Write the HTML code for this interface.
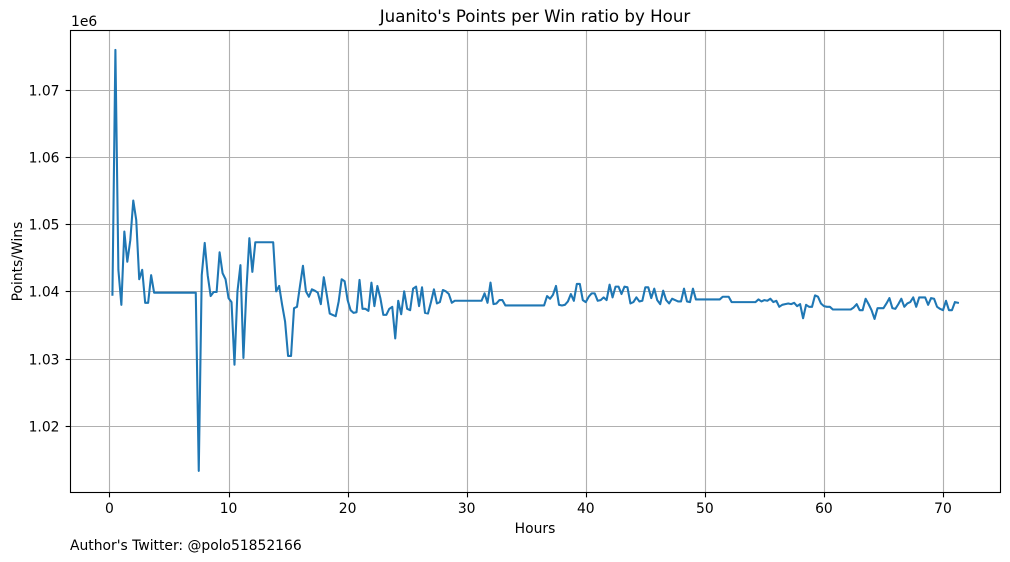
<!DOCTYPE html>
<html lang="en">
<head>
<meta charset="utf-8">
<title>Juanito's Points per Win ratio by Hour</title>
<style>
html,body{margin:0;padding:0;background:#fff;width:1010px;height:562px;overflow:hidden}
svg{display:block}
text{font-family:"DejaVu Sans",sans-serif;font-size:13.89px;fill:#000}
</style>
</head>
<body>
<svg id="chart" xmlns="http://www.w3.org/2000/svg" width="1010" height="562" viewBox="0 0 1010 562">
  <rect x="0" y="0" width="1010" height="562" fill="#fff"/>
  <g id="grid"></g>
  <path id="series" fill="none" stroke="#1f77b4" stroke-width="2.08" stroke-linejoin="round" stroke-linecap="square"></path>
  <rect x="70.5" y="30.5" width="930" height="462" fill="none" stroke="#000" stroke-width="1.11"/>
  <g id="ticks"></g>
  <text x="535" y="22" text-anchor="middle" style="font-size:16.67px">Juanito's Points per Win ratio by Hour</text>
  <text x="535" y="533" text-anchor="middle">Hours</text>
  <text x="0" y="0" text-anchor="middle" transform="translate(22,261.5) rotate(-90)">Points/Wins</text>
  <text x="71" y="26">1e6</text>
  <text x="70" y="550">Author's Twitter: @polo51852166</text>
</svg>
<script>
const xTicks = [0, 10, 20, 30, 40, 50, 60, 70];
const yTicks = [1.02, 1.03, 1.04, 1.05, 1.06, 1.07];
const yTickLabels = ["1.02", "1.03", "1.04", "1.05", "1.06", "1.07"];
const hours = [
  0.25,0.5,0.75,1,1.25,1.5,1.75,2,2.25,2.5,
  2.75,3,3.25,3.5,3.75,7.25,7.5,7.75,8,8.25,
  8.5,8.75,9,9.25,9.5,9.75,10,10.25,10.5,10.75,
  11,11.25,11.5,11.75,12,12.25,13.75,14,14.25,14.5,
  14.75,15,15.25,15.5,15.75,16,16.25,16.5,16.75,17,
  17.25,17.5,17.75,18,18.25,18.5,18.75,19,19.25,19.5,
  19.75,20,20.25,20.5,20.75,21,21.25,21.5,21.75,22,
  22.25,22.5,22.75,23,23.25,23.5,23.75,24,24.25,24.5,
  24.75,25,25.25,25.5,25.75,26,26.25,26.5,26.75,27,
  27.25,27.5,27.75,28,28.25,28.5,28.75,29,31.25,31.5,
  31.75,32,32.25,32.5,32.75,33,33.25,36.5,36.75,37,
  37.25,37.5,37.75,38,38.25,38.5,38.75,39,39.25,39.5,
  39.75,40,40.25,40.5,40.75,41,41.25,41.5,41.75,42,
  42.25,42.5,42.75,43,43.25,43.5,43.75,44,44.25,44.5,
  44.75,45,45.25,45.5,45.75,46,46.25,46.5,46.75,47,
  47.25,47.5,47.75,48,48.25,48.5,48.75,49,49.25,51.25,
  51.5,52,52.25,54.25,54.5,54.75,55,55.25,55.5,55.75,
  56,56.25,56.5,56.75,57,57.25,57.5,57.75,58,58.25,
  58.5,58.75,59,59.25,59.5,59.75,60,60.25,60.5,60.75,
  62.25,62.5,62.75,63,63.25,63.5,63.75,64,64.25,64.5,
  64.75,65,65.25,65.5,65.75,66,66.25,66.5,66.75,67,
  67.25,67.5,67.75,68,68.25,68.5,68.75,69,69.25,69.5,
  69.75,70,70.25,70.5,70.75,71,71.25
];
const pointsPerWin = [
  1.0395,1.0759,1.0432,1.038,1.0489,1.0444,1.0476,1.0535,1.0506,1.0418,
  1.0432,1.0383,1.0383,1.0424,1.0398,1.0398,1.0133,1.0424,1.0472,1.0424,
  1.0393,1.0399,1.0399,1.0458,1.0427,1.0418,1.039,1.0384,1.0291,1.04,
  1.0439,1.0301,1.0402,1.0479,1.0429,1.0473,1.0473,1.04,1.0408,1.038,
  1.0355,1.0304,1.0304,1.0375,1.0377,1.0408,1.0438,1.04,1.0392,1.0403,
  1.0401,1.0398,1.0381,1.0421,1.0395,1.0367,1.0365,1.0363,1.0385,1.0418,
  1.0415,1.0387,1.0372,1.0368,1.0369,1.0417,1.0374,1.0374,1.0371,1.0413,
  1.0378,1.0408,1.039,1.0365,1.0365,1.0374,1.0377,1.033,1.0386,1.0366,
  1.04,1.0374,1.0372,1.0404,1.0407,1.0378,1.0406,1.0368,1.0367,1.0384,
  1.0403,1.0382,1.0384,1.0402,1.04,1.0396,1.0383,1.0386,1.0386,1.0397,
  1.0383,1.0413,1.0381,1.0382,1.0387,1.0387,1.0379,1.0379,1.0393,1.0389,
  1.0395,1.0408,1.038,1.0379,1.038,1.0385,1.0396,1.0386,1.0411,1.0411,
  1.0387,1.0384,1.0392,1.0397,1.0397,1.0386,1.0387,1.0391,1.0387,1.041,
  1.0391,1.0407,1.0407,1.0396,1.0407,1.0406,1.0382,1.0384,1.0391,1.0385,
  1.0386,1.0406,1.0406,1.039,1.0404,1.0387,1.0381,1.0401,1.0387,1.0382,
  1.0389,1.0387,1.0385,1.0385,1.0404,1.0385,1.0384,1.0404,1.0388,1.0388,
  1.0392,1.0392,1.0384,1.0384,1.0388,1.0385,1.0387,1.0386,1.0389,1.0384,
  1.0386,1.0377,1.038,1.0381,1.0382,1.0381,1.0383,1.0378,1.0381,1.036,
  1.038,1.0377,1.0377,1.0394,1.0392,1.0382,1.0378,1.0377,1.0377,1.0373,
  1.0373,1.0376,1.0381,1.0372,1.0372,1.0389,1.0381,1.0372,1.0359,1.0375,
  1.0375,1.0375,1.0382,1.039,1.0375,1.0374,1.0381,1.0389,1.0377,1.0382,
  1.0384,1.0391,1.0377,1.0391,1.0391,1.0391,1.038,1.039,1.0389,1.0377,
  1.0374,1.0372,1.0386,1.0372,1.0372,1.0384,1.0383
];

const NS = "http://www.w3.org/2000/svg";
const plot = { left: 70.5, right: 1000.5, top: 30.5, bottom: 492.5 };
function xScale(h) { return 109.45 + 11.908 * h; }
function yScale(v) { return 89.6 + (1.07 - v) * 6725; }
function snap(p) { return Math.floor(p + 0.5) + 0.5; }

function line(parent, x1, y1, x2, y2, color) {
  const el = document.createElementNS(NS, "line");
  el.setAttribute("x1", x1);
  el.setAttribute("y1", y1);
  el.setAttribute("x2", x2);
  el.setAttribute("y2", y2);
  el.setAttribute("stroke", color);
  el.setAttribute("stroke-width", "1.11");
  parent.appendChild(el);
  return el;
}
function label(parent, x, y, anchor, str) {
  const el = document.createElementNS(NS, "text");
  el.setAttribute("x", x);
  el.setAttribute("y", y);
  el.setAttribute("text-anchor", anchor);
  el.textContent = str;
  parent.appendChild(el);
  return el;
}

const gridG = document.getElementById("grid");
const ticksG = document.getElementById("ticks");

xTicks.forEach(function (t) {
  const x = snap(xScale(t));
  const g = line(gridG, x, plot.top, x, plot.bottom, "#b0b0b0");
  
  
  const m = line(ticksG, x, plot.bottom, x, plot.bottom + 4.86, "#000");
  
  
  const l = label(ticksG, xScale(t), 513, "middle", String(t));
  
  
});

yTicks.forEach(function (t, i) {
  const y = snap(yScale(t));
  const g = line(gridG, plot.left, y, plot.right, y, "#b0b0b0");
  
  
  const m = line(ticksG, plot.left - 4.86, y, plot.left, y, "#000");
  
  
  const l = label(ticksG, 59.5, y + 5, "end", yTickLabels[i]);
  
  
});

document.getElementById("series").setAttribute("d", hours.map(function (h, i) {
  return (i ? "L" : "M") + xScale(h).toFixed(2) + " " + yScale(pointsPerWin[i]).toFixed(2);
}).join(""));
</script>
</body>
</html>
